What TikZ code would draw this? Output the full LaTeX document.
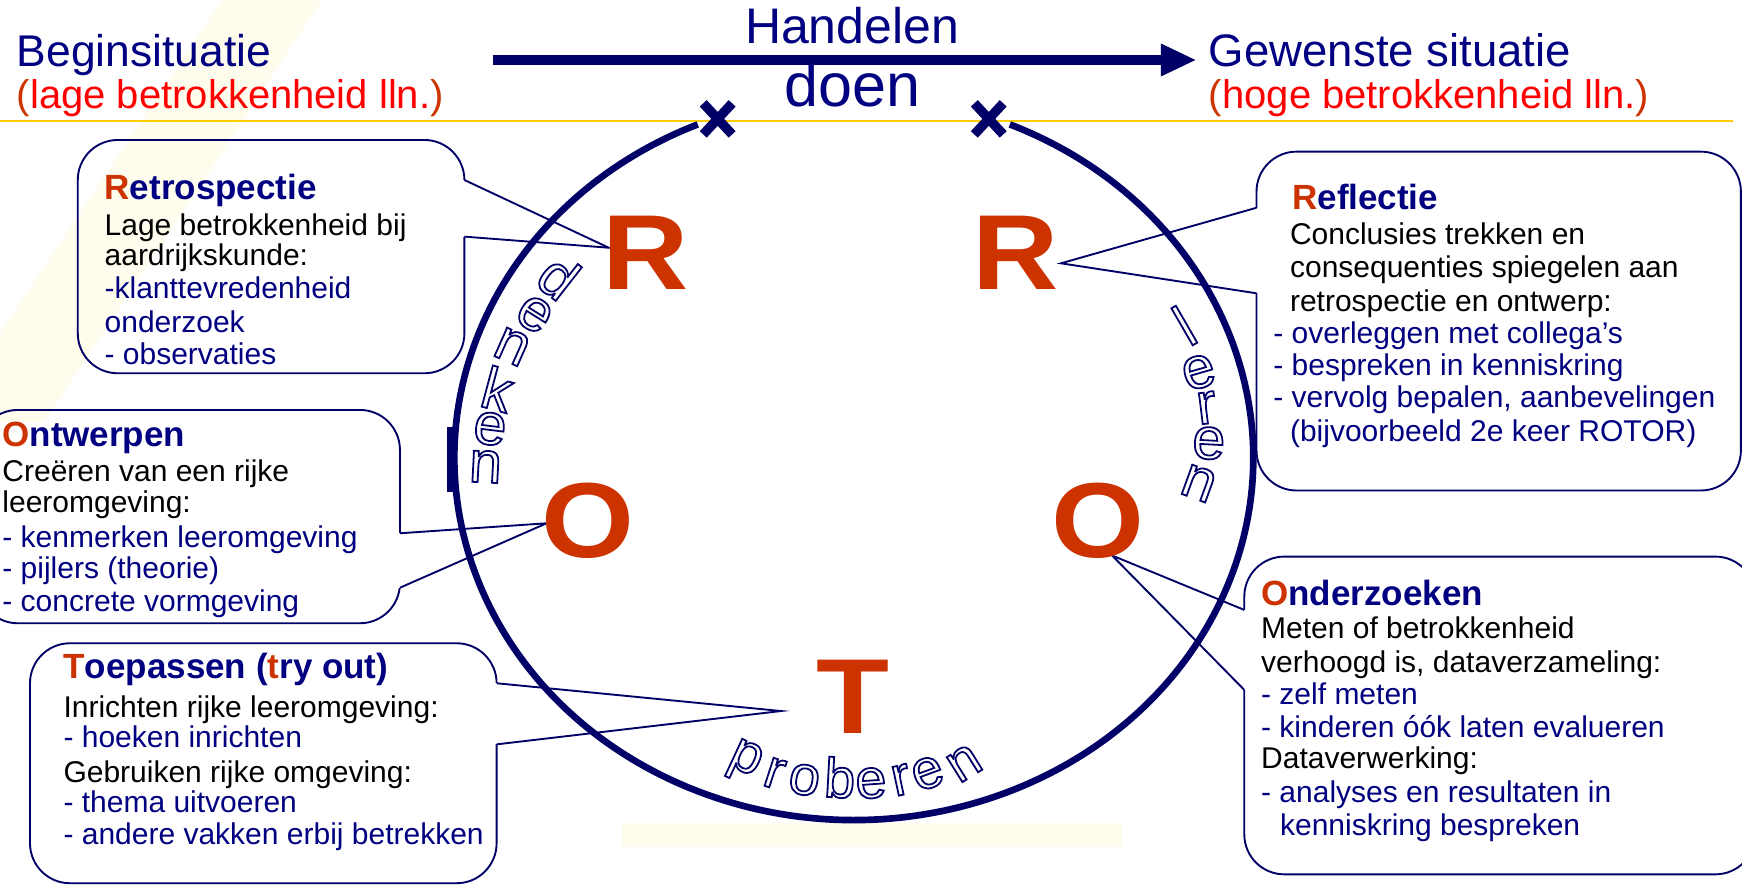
\documentclass[tikz,border=0pt]{standalone}
\usepackage{fontspec}
\setmainfont{Liberation Sans}
\usetikzlibrary{arrows.meta}
\definecolor{rotnavy}{RGB}{0,0,102}
\definecolor{rottext}{RGB}{0,0,128}
\definecolor{rotorange}{RGB}{204,51,0}
\definecolor{rotred}{RGB}{255,0,0}
\definecolor{rotgold}{RGB}{255,204,0}
\definecolor{rotpale}{RGB}{254,252,236}
% outlined letters: stroke only
\newcommand{\hollow}[1]{\special{pdf:literal direct 1 Tr 1.6 w}#1\special{pdf:literal direct 0 Tr}}
\begin{document}
\begin{tikzpicture}[x=1pt,y=1pt,
  bigletter/.style={text=rotorange, font=\fontsize{96}{96}\selectfont\bfseries, xscale=1.12},
  callout/.style={draw=rotnavy, line width=1.7pt, rounded corners=36pt},
  wedge/.style={draw=rotnavy, line width=1.7pt},
  ring/.style={draw=rotnavy, line width=6pt},
  titletext/.style={anchor=base west, font=\fontsize{31.5}{31.5}\selectfont\bfseries, text=rottext},
  bodytext/.style={anchor=base west, font=\fontsize{27}{30}\selectfont},
  hollowletter/.style={text=rotnavy, font=\fontsize{53}{53}\selectfont}]
\tikzstyle{every node}+=[inner sep=0pt]
\useasboundingbox (0,0) rectangle (1568,-797);
% faint background
\fill[rotpale] (200,0) -- (290,0) -- (40,-380) -- (0,-380) -- (0,-300) -- cycle;
\fill[rotpale] (560,-741) -- (1010,-741) -- (1010,-762) -- (560,-762) -- cycle;
% header
\node[anchor=base west, font=\fontsize{40}{40}\selectfont, text=rottext] (begin) at (15,-60) {Beginsituatie};
\node[anchor=base west, font=\fontsize{36}{36}\selectfont, text=rotred] (beginsub) at (15,-97.5) {\textcolor{rotorange}{(}lage betrokkenheid lln.\textcolor{rotorange}{)}};
\node[anchor=base west, font=\fontsize{41}{41}\selectfont, text=rottext] (goal) at (1088,-60) {Gewenste situatie};
\node[anchor=base west, font=\fontsize{36}{36}\selectfont, text=rotred] (goalsub) at (1088,-97.5) {\textcolor{rotorange}{(}hoge betrokkenheid lln.\textcolor{rotorange}{)}};
\node[anchor=base, font=\fontsize{45}{45}\selectfont, text=rottext] (handelen) at (767,-39) {Handelen};
\node[anchor=base, font=\fontsize{55}{55}\selectfont, text=rottext] (doen) at (767,-96) {doen};
\coordinate (actstart) at (444,-54);
\coordinate (actend) at (1077,-54);
\draw[rotnavy, line width=9pt, -{Triangle[length=32pt, width=27pt]}] (actstart) -- (actend);
\coordinate (goldleft) at (0,-108.6);
\coordinate (goldright) at (1560,-108.6);
\draw[rotgold, line width=2pt] (goldleft) -- (goldright);

% callouts
\node[callout, minimum width=348, minimum height=210] (retrobox) at (244,-231) {};
\coordinate (retrotop) at (418,-162);
\coordinate (retrotip) at (548,-223);
\coordinate (retrobot) at (418,-213);
\node[callout, minimum width=380, minimum height=192] (ontwbox) at (170,-465) {};
\coordinate (ontwtop) at (360,-480);
\coordinate (ontwtip) at (492,-471);
\coordinate (ontwbot) at (360,-529);
\node[callout, minimum width=420, minimum height=216] (toepbox) at (237,-687) {};
\coordinate (toeptop) at (447,-615);
\coordinate (toeptip) at (703,-640);
\coordinate (toepbot) at (447,-670);
\node[callout, minimum width=436, minimum height=305] (reflbox) at (1349,-289) {};
\coordinate (refltop) at (1131,-187);
\coordinate (refltip) at (955,-237);
\coordinate (reflbot) at (1131,-264);
\node[callout, minimum width=460, minimum height=286] (ondzbox) at (1350,-644) {};
\coordinate (ondztop) at (1120,-549);
\coordinate (ondztip) at (1001,-500);
\coordinate (ondzbot) at (1120,-621);
\foreach \w in {retro,ontw,toep,refl,ondz}{
  \draw[white, line width=3pt] (\w top) -- (\w bot);
  \draw[wedge] (\w top) -- (\w tip) -- (\w bot);
}

% texts in the callouts
\node[titletext] (retrotitle) at (94,-180) {\textcolor{rotorange}{R}etrospectie};
\foreach \yy/\txt [count=\i] in {212/{Lage betrokkenheid bij}, 239/{aardrijkskunde:},
    269/{\color{rottext}-klanttevredenheid}, 299/{\color{rottext}onderzoek}, 328/{\color{rottext}- observaties}}
  \node[bodytext] (retro\i) at (94,-\yy) {\txt};
\node[titletext] (ontwtitle) at (2,-402) {\textcolor{rotorange}{O}ntwerpen};
\foreach \yy/\txt [count=\i] in {433/{Creëren van een rijke}, 461/{leeromgeving:},
    493/{\color{rottext}- kenmerken leeromgeving}, 521/{\color{rottext}- pijlers (theorie)}, 550/{\color{rottext}- concrete vormgeving}}
  \node[bodytext] (ontw\i) at (2,-\yy) {\txt};
\node[titletext] (toeptitle) at (57,-611) {\textcolor{rotorange}{T}oepassen (\textcolor{rotorange}{t}ry out)};
\foreach \yy/\txt [count=\i] in {646/{Inrichten rijke leeromgeving:}, 673/{\color{rottext}- hoeken inrichten},
    704/{Gebruiken rijke omgeving:}, 731/{\color{rottext}- thema uitvoeren}, 760/{\color{rottext}- andere vakken erbij betrekken}}
  \node[bodytext] (toep\i) at (57,-\yy) {\txt};
\node[titletext] (refltitle) at (1163,-189) {\textcolor{rotorange}{R}eflectie};
\foreach \xx/\yy/\txt [count=\i] in {1161/220/{Conclusies trekken en}, 1161/250/{consequenties spiegelen aan},
    1161/280/{retrospectie en ontwerp:}, 1146/309/{\color{rottext}- overleggen met collega’s},
    1146/338/{\color{rottext}- bespreken in kenniskring}, 1146/367/{\color{rottext}- vervolg bepalen, aanbevelingen},
    1161/397/{\color{rottext}(bijvoorbeeld 2e keer ROTOR)}}
  \node[bodytext] (refl\i) at (\xx,-\yy) {\txt};
\node[titletext] (ondztitle) at (1135,-545) {\textcolor{rotorange}{O}nderzoeken};
\foreach \xx/\yy/\txt [count=\i] in {1135/575/{Meten of betrokkenheid}, 1135/605/{verhoogd is, dataverzameling:},
    1135/634/{\color{rottext}- zelf meten}, 1135/664/{\color{rottext}- kinderen óók laten evalueren},
    1135/692/{Dataverwerking:}, 1135/722/{\color{rottext}- analyses en resultaten in},
    1152/752/{\color{rottext}kenniskring bespreken}}
  \node[bodytext] (ondz\i) at (\xx,-\yy) {\txt};

% the cycle
\draw[ring] (909,-112) arc[start angle=67, end angle=-247, x radius=359.5, y radius=326];
\draw[rotnavy, line width=6pt] (405,-384) -- (405,-443);
\foreach \mx in {646,890}{
  \draw[rotnavy, line width=8.5pt] (\mx-13,-93) -- (\mx+13,-121);
  \draw[rotnavy, line width=8.5pt] (\mx-13,-121) -- (\mx+13,-93);
}
\node[bigletter] (rleft) at (581,-228) {R};
\node[bigletter] (rright) at (914,-228) {R};
\node[bigletter] (oleft) at (529,-469) {O};
\node[bigletter] (oright) at (988,-469) {O};
\node[bigletter] (tbottom) at (768,-627) {T};

% words along the cycle (stacked letters)
\foreach \ch/\xx/\yy/\rr [count=\i] in {d/503/249/-38, e/481/283/-32, n/461/312/-24,
    k/448/350/-15, e/441/386/-7, n/437/420/-3}
  \node[hollowletter, rotate=\rr] (denk\i) at (\xx,-\yy) {\hollow{\ch}};
\foreach \ch/\xx/\yy/\rr [count=\i] in {l/1066/293/30, e/1079/335/16, r/1086/367/7,
    e/1088/399/-3, n/1079/435/-20}
  \node[hollowletter, rotate=\rr] (leer\i) at (\xx,-\yy) {\hollow{\ch}};
\foreach \ch/\xx/\yy/\rr [count=\i] in {p/670/686/-25, r/697/696/-18, o/724/702/-10, b/756/700/-3,
    e/784/705/4, r/811/702/12, e/835/696/20, n/868/687/32}
  \node[hollowletter, font=\fontsize{50}{50}\selectfont, rotate=\rr] (prob\i) at (\xx,-\yy) {\hollow{\ch}};
\end{tikzpicture}
\end{document}
